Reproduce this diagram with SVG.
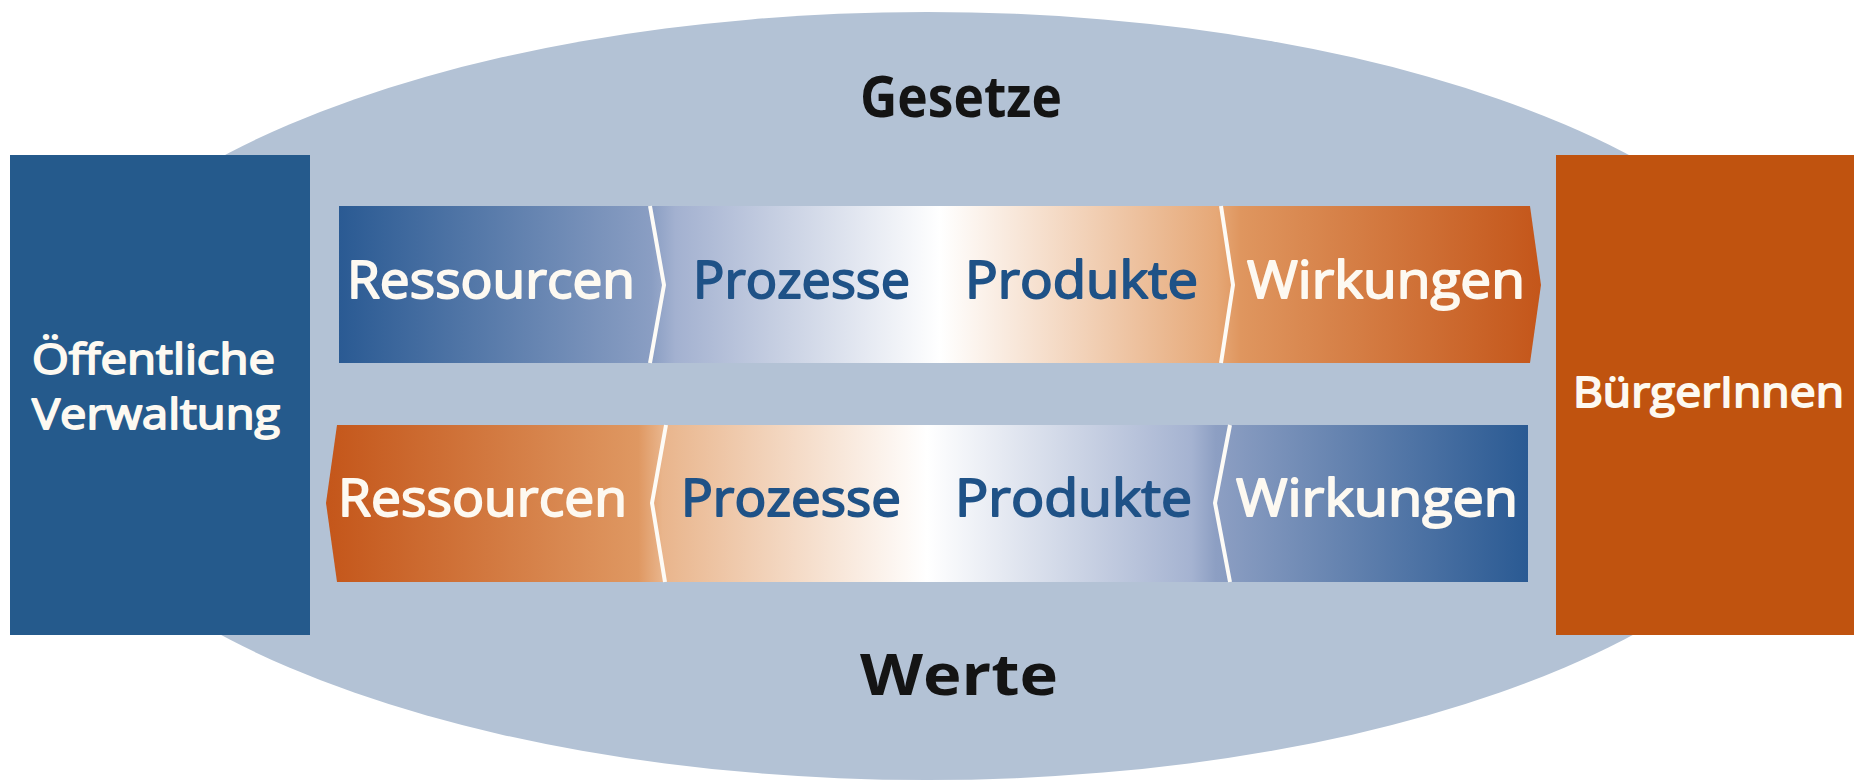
<svg xmlns="http://www.w3.org/2000/svg" width="1854" height="784" viewBox="0 0 1854 784">
  <defs>
    <linearGradient id="gradTop" gradientUnits="userSpaceOnUse" x1="339" y1="0" x2="1541" y2="0">
      <stop offset="0" stop-color="#2a5a93"/>
      <stop offset="0.26" stop-color="#8a9ec3"/>
      <stop offset="0.28" stop-color="#a3b1d0"/>
      <stop offset="0.50" stop-color="#ffffff"/>
      <stop offset="0.73" stop-color="#e6a877"/>
      <stop offset="0.75" stop-color="#df965f"/>
      <stop offset="1" stop-color="#c4561a"/>
    </linearGradient>
    <linearGradient id="gradBottom" gradientUnits="userSpaceOnUse" x1="326" y1="0" x2="1528" y2="0">
      <stop offset="0" stop-color="#c4561a"/>
      <stop offset="0.26" stop-color="#df9862"/>
      <stop offset="0.28" stop-color="#e9b58c"/>
      <stop offset="0.50" stop-color="#ffffff"/>
      <stop offset="0.72" stop-color="#a5b3d1"/>
      <stop offset="0.74" stop-color="#8d9fc3"/>
      <stop offset="1" stop-color="#2a5a93"/>
    </linearGradient>
    <style>
      /* semibold look: regular face with a thin outline in the fill colour */
      .label { font-family: "Open Sans", "Liberation Sans", sans-serif; font-weight: 400; stroke-width: 1.8; stroke-linejoin: round; }
      .head { font-family: "Open Sans", "Liberation Sans", sans-serif; font-weight: 700; font-size: 58px; fill: #141414; }
      .band { font-size: 52px; }
      .side { font-size: 42px; }
      .light { fill: #fdf9f1; stroke: #fdf9f1; }
      .dark { fill: #1f5287; stroke: #1f5287; }
      .sep { fill: none; stroke: #fdfbf6; stroke-width: 4; stroke-linejoin: miter; }
    </style>
  </defs>

  <rect width="1854" height="784" fill="#ffffff"/>

  <!-- framework: laws above, values below -->
  <g id="framework">
    <ellipse cx="927" cy="396" rx="902" ry="384" fill="#b3c2d5"/>
    <text class="head" x="860" y="117" textLength="202" lengthAdjust="spacingAndGlyphs">Gesetze</text>
    <text class="head" x="860" y="695" textLength="198" lengthAdjust="spacingAndGlyphs">Werte</text>
  </g>

  <!-- public administration -->
  <g id="verwaltung">
    <rect x="10" y="155" width="300" height="480" fill="#255a8c"/>
    <text class="label side light" x="32" y="374" textLength="243" lengthAdjust="spacingAndGlyphs">Öffentliche</text>
    <text class="label side light" x="32" y="429" textLength="248" lengthAdjust="spacingAndGlyphs">Verwaltung</text>
  </g>

  <!-- citizens -->
  <g id="buergerinnen">
    <rect x="1556" y="155" width="298" height="480" fill="#c0530f"/>
    <text class="label side light" x="1573" y="407" textLength="271" lengthAdjust="spacingAndGlyphs">BürgerInnen</text>
  </g>

  <!-- chain from administration to citizens -->
  <g id="kette-vorwaerts">
    <path d="M339,206 L1530,206 L1541,285 L1530,363 L339,363 Z" fill="url(#gradTop)"/>
    <text class="label band light" x="347" y="298" textLength="288" lengthAdjust="spacingAndGlyphs">Ressourcen</text>
    <text class="label band dark" x="693" y="298" textLength="217" lengthAdjust="spacingAndGlyphs">Prozesse</text>
    <text class="label band dark" x="965" y="298" textLength="233" lengthAdjust="spacingAndGlyphs">Produkte</text>
    <text class="label band light" x="1247" y="298" textLength="278" lengthAdjust="spacingAndGlyphs">Wirkungen</text>
  </g>

  <!-- chain from citizens back to administration -->
  <g id="kette-rueckwaerts">
    <path d="M337,425 L1528,425 L1528,582 L337,582 L326,503 Z" fill="url(#gradBottom)"/>
    <text class="label band light" x="338" y="516" textLength="289" lengthAdjust="spacingAndGlyphs">Ressourcen</text>
    <text class="label band dark" x="681" y="516" textLength="220" lengthAdjust="spacingAndGlyphs">Prozesse</text>
    <text class="label band dark" x="955" y="516" textLength="237" lengthAdjust="spacingAndGlyphs">Produkte</text>
    <text class="label band light" x="1236" y="516" textLength="282" lengthAdjust="spacingAndGlyphs">Wirkungen</text>
  </g>

  <!-- chevron dividers between stages -->
  <g id="connectors">
    <polyline class="sep" points="650,206 664,285 650,363"/>
    <polyline class="sep" points="1221,206 1233,285 1221,363"/>
    <polyline class="sep" points="666,425 652,503 665,582"/>
    <polyline class="sep" points="1230,425 1215,503 1230,582"/>
  </g>
</svg>
